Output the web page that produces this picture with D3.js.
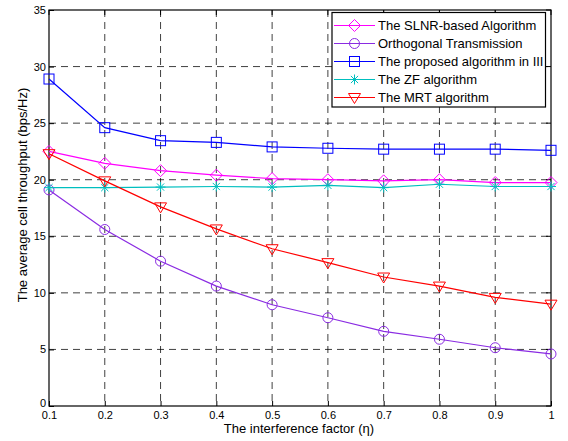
<!DOCTYPE html>
<html><head><meta charset="utf-8">
<script src="https://cdn.jsdelivr.net/npm/d3@7"></script>
<style>body{margin:0;background:#fff}svg{display:block;font-family:"Liberation Sans",Arial,sans-serif}</style>
</head><body>
<svg id="c" width="568" height="441"></svg>
<script>
const xValues = [0.1,0.2,0.3,0.4,0.5,0.6,0.7,0.8,0.9,1.0];
const slnr = [22.5,21.45,20.8,20.4,20.1,20.0,19.9,20.0,19.75,19.75];
const orthogonal = [19.1,15.6,12.8,10.6,8.95,7.8,6.6,5.9,5.15,4.6];
const proposed = [28.9,24.6,23.45,23.3,22.9,22.78,22.7,22.7,22.7,22.6];
const zf = [19.3,19.3,19.35,19.4,19.35,19.5,19.3,19.6,19.4,19.4];
const mrt = [22.3,19.9,17.6,15.65,13.9,12.67,11.4,10.6,9.6,9.0];
const seriesNames = ["The SLNR-based Algorithm","Orthogonal Transmission","The proposed algorithm in III","The ZF algorithm","The MRT algorithm"];
const xTicks = [0.1,0.2,0.3,0.4,0.5,0.6,0.7,0.8,0.9,1];
const yTicks = [0,5,10,15,20,25,30,35];

const series = [
  {name:seriesNames[0], values:slnr, color:"#ff00ff", marker:"diamond"},
  {name:seriesNames[1], values:orthogonal, color:"#8a2be2", marker:"circle"},
  {name:seriesNames[2], values:proposed, color:"#0000ff", marker:"square"},
  {name:seriesNames[3], values:zf, color:"#00bfbf", marker:"star"},
  {name:seriesNames[4], values:mrt, color:"#ff0000", marker:"triangle"}
];

const svg = d3.select("#c");
const L=49, R=551, T=10, B=406;
const x = d3.scaleLinear().domain([0.1,1]).range([L,R]);
const y = d3.scaleLinear().domain([0,35]).range([B,T]);

// grid
const g = svg.append("g");
g.selectAll(".vg").data(xTicks.slice(1,-1)).join("line")
  .attr("x1",d=>x(d)).attr("x2",d=>x(d)).attr("y1",T).attr("y2",B)
  .attr("stroke","#000").attr("stroke-opacity",0.75).attr("stroke-dasharray","7,5");
g.selectAll(".hg").data(yTicks.slice(1,-1)).join("line")
  .attr("y1",d=>y(d)).attr("y2",d=>y(d)).attr("x1",L).attr("x2",R)
  .attr("stroke","#000").attr("stroke-opacity",0.75).attr("stroke-dasharray","7,5");

// axes
const xAxis = d3.axisBottom(x).tickValues(xTicks).tickFormat(d=>d===1?"1":d3.format(".1f")(d)).tickSizeInner(-5).tickSizeOuter(0).tickPadding(5);
const yAxis = d3.axisLeft(y).tickValues(yTicks).tickSizeInner(-5).tickSizeOuter(0).tickPadding(3);
const ax = svg.append("g").attr("transform",`translate(0,${B})`).call(xAxis);
const ay = svg.append("g").attr("transform",`translate(${L},0)`).call(yAxis);
[ax,ay].forEach(a=>{a.select(".domain").remove();a.selectAll("text").attr("font-size",11).attr("fill","#000").attr("font-family","Liberation Sans, Arial, sans-serif");a.selectAll("line").attr("stroke","#000");});
ay.selectAll(".tick text").filter(d=>d===0).attr("dy","0.02em");
// top/right ticks
svg.append("g").selectAll("line").data(xTicks).join("line").attr("x1",d=>x(d)).attr("x2",d=>x(d)).attr("y1",T).attr("y2",T+5).attr("stroke","#000");
svg.append("g").selectAll("line").data(yTicks).join("line").attr("y1",d=>y(d)).attr("y2",d=>y(d)).attr("x1",R).attr("x2",R-5).attr("stroke","#000");
svg.append("rect").attr("x",L).attr("y",T).attr("width",R-L).attr("height",B-T).attr("fill","none").attr("stroke","#000").attr("stroke-width",1.2);

function drawMarker(sel, type, color){
  let m;
  if(type==="circle") m = sel.append("circle").attr("r",5);
  else if(type==="square") m = sel.append("rect").attr("x",-5).attr("y",-5).attr("width",10).attr("height",10);
  else if(type==="diamond") m = sel.append("path").attr("d","M0,-6L6,0L0,6L-6,0Z");
  else if(type==="triangle") m = sel.append("path").attr("d","M-6,-4L6,-4L0,6Z");
  else m = sel.append("path").attr("d","M-5,0L5,0M0,-5L0,5M-3.6,-3.6L3.6,3.6M-3.6,3.6L3.6,-3.6");
  m.style("fill","none").style("stroke",color).style("stroke-width",1);
}

const line = d3.line().x(d=>x(d[0])).y(d=>y(d[1]));
series.forEach(s=>{
  const pts = xValues.map((xv,i)=>[xv,s.values[i]]);
  svg.append("path").attr("d",line(pts)).style("fill","none").style("stroke",s.color).style("stroke-width",1.2);
  svg.append("g").selectAll("g").data(pts).join("g").attr("transform",d=>`translate(${x(d[0])},${y(d[1])})`).each(function(){drawMarker(d3.select(this),s.marker,s.color);});
});

// legend
const lg = svg.append("g");
lg.append("rect").attr("x",332).attr("y",12.5).attr("width",213.5).attr("height",94.5).style("fill","#fff").style("stroke","#000").style("stroke-width",1.2);
series.forEach((s,i)=>{
  const yy = 25.5 + i*18;
  lg.append("line").attr("x1",334).attr("x2",375).attr("y1",yy).attr("y2",yy).style("stroke",s.color).style("stroke-width",1.2);
  const m = lg.append("g").attr("transform",`translate(354.5,${yy})`);
  drawMarker(m,s.marker,s.color);
  lg.append("text").attr("x",378).attr("y",yy+4.7).attr("font-size",13).attr("fill","#000").text(s.name);
});

// axis labels
svg.append("text").attr("x",299).attr("y",433).attr("text-anchor","middle").attr("font-size",13).text("The interference factor (η)");
svg.append("text").attr("transform",`translate(26.5,195) rotate(-90)`).attr("text-anchor","middle").attr("font-size",13).text("The average cell throughput (bps/Hz)");
</script>
</body></html>
